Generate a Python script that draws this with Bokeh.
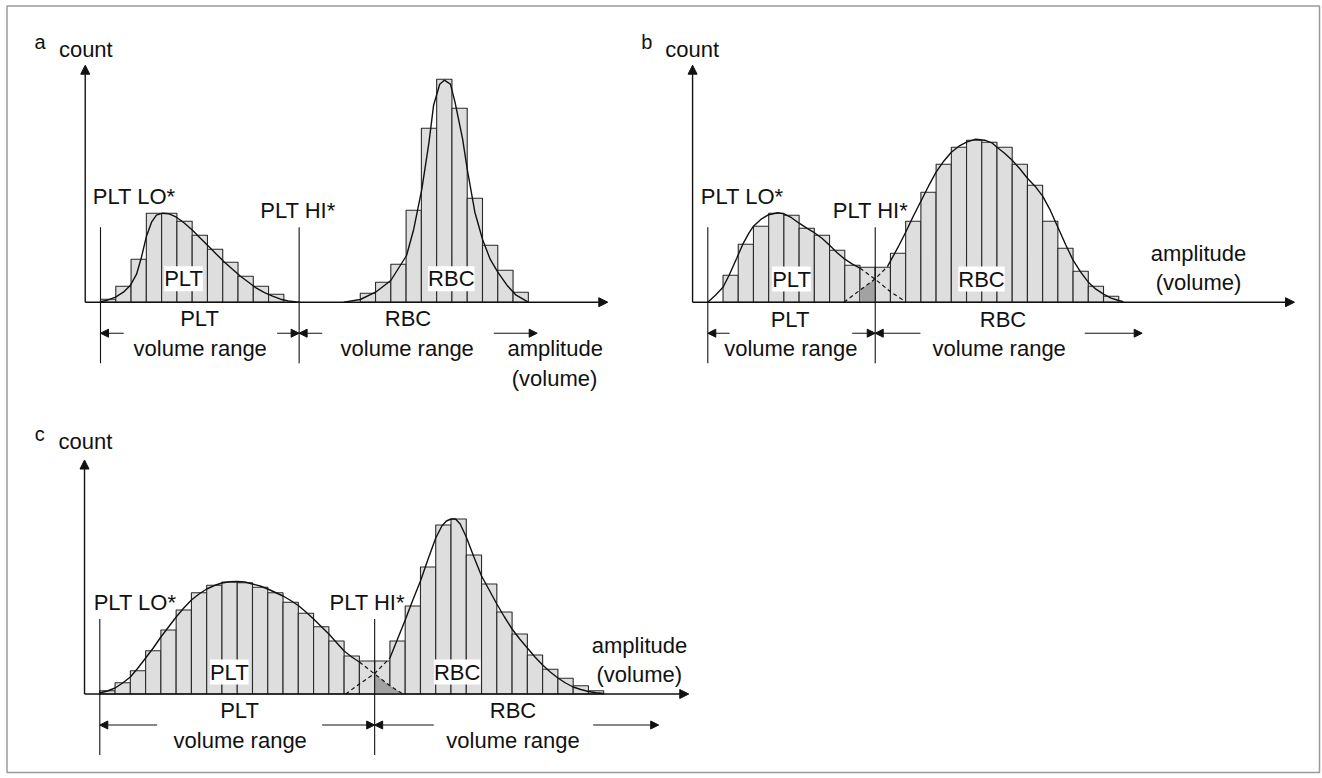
from bokeh.plotting import figure
from bokeh.models import Range1d, Label, Arrow, NormalHead
from bokeh.embed import file_html
from bokeh.resources import INLINE

W, H = 1322, 778
FONT = "Liberation Sans"
TEXT_DY = -8.5   # correction between requested and rendered baseline

# ---------------- data ----------------
# histogram counts per amplitude bin; bin 0 starts at the PLT LO threshold
a_counts = [3, 16, 43, 89, 89, 81, 67, 53, 40, 26, 16, 8,
            0, 0, 0, 0, 0,
            9, 20, 38, 92, 174, 223, 194, 104, 57, 32, 10]
b_counts = [0, 27, 58, 76, 89, 87, 74, 67, 52, 37, 35, 35, 49, 81, 110,
            138, 155, 162, 160, 155, 138, 117, 81, 54, 31, 16, 6]
c_counts = [3.3, 11.3, 23.3, 43.3, 64, 84, 101.3, 108.7, 112, 111.3, 106.7,
            101.3, 91.7, 80.7, 67.3, 53, 38, 33, 33, 53, 88, 127, 169, 175,
            139, 110, 82, 60, 39, 24.7, 15.7, 8.3, 3.3]

# discriminator thresholds (bin edges)
plt_lo = 0
a_plt_hi = 13
b_plt_hi = 11
c_plt_hi = 18

# fitted distribution curves (bin, count)
a_plt_x = [0, 0.46, 0.98, 1.5, 1.96, 2.36, 2.68, 3.01, 3.34, 3.66, 4.06, 4.45, 4.97,
           5.5, 6.02, 6.54, 7.07, 7.59, 8.12, 8.64, 9.16, 9.69, 10.21, 10.73,
           11.26, 11.78, 12.3, 12.83, 13.02]
a_plt_y = [0.5, 2, 5, 10, 17, 28, 45, 66, 80, 87, 89, 88.5, 85, 79, 72, 64, 56, 48,
           40, 33, 26, 20, 14, 9.5, 6, 3, 1.2, 0.3, 0]
a_rbc_x = [15.92, 17.0, 18.0, 19.0, 20.03, 20.5, 21.03, 21.5, 21.8, 22.2, 22.5,
           22.9, 23.2, 23.7, 24.0, 24.5, 25.0, 25.5, 26.0, 26.6, 27.2, 28.0]
a_rbc_y = [0, 2.7, 10, 21.7, 46.7, 73, 113, 160, 197, 218, 222, 218, 200, 163,
           133, 90, 63, 43, 30, 17, 7, 0]

b_plt_x = [0, 0.5, 1, 1.4, 1.9, 2.3, 2.7, 3.0, 3.5, 4.0, 4.6, 5.0, 5.5, 6.0, 6.5,
           7.0, 7.5, 8.0, 8.5, 9.0, 9.5, 10.0]
b_plt_y = [0, 7, 15, 27, 44, 58, 69, 76, 83, 87.5, 89.5, 88.3, 84.5, 79, 74, 69.5,
           64, 57, 49.5, 43, 38, 34]
b_plt_tail_x = [10, 11, 12, 13]
b_plt_tail_y = [34, 23, 10.5, 0.5]
b_rbc_tail_x = [8.95, 10, 11, 11.8]
b_rbc_tail_y = [0, 12, 23.5, 35.5]
b_rbc_x = [11.8, 12, 12.5, 13, 13.5, 14, 14.5, 15, 15.5, 16, 16.5, 17, 17.6, 18.2,
           18.7, 19, 19.5, 20, 20.5, 21, 21.5, 22, 22.5, 23, 23.5, 24, 24.5, 25,
           25.5, 26, 26.5, 27, 27.3]
b_rbc_y = [35.5, 41, 55, 70, 86, 101, 116, 130, 141, 150, 156, 160, 163, 162, 159,
           155, 149, 142, 133.5, 124, 116, 106, 92, 75, 58, 42, 30, 20, 13, 8, 4,
           1.7, 0.5]

c_plt_x = [0, 0.5, 1, 1.5, 2, 2.5, 3, 3.5, 4, 4.5, 5, 5.5, 6, 6.5, 7, 7.5, 8, 8.5,
           9, 9.5, 10, 10.5, 11, 11.5, 12, 12.5, 13, 13.5, 14, 14.5, 15, 15.5, 16,
           16.5, 17]
c_plt_y = [1, 3, 6, 11, 17, 26, 36, 46, 57, 67, 77, 86, 94, 100, 105, 108.5, 111,
           112.2, 112.5, 112, 110, 108, 105, 101.5, 98, 93.5, 88.5, 82, 75, 67.5,
           60, 51.5, 43, 37, 32]
c_plt_tail_x = [17, 18, 19, 19.8]
c_plt_tail_y = [32, 20, 8.3, 0.5]
c_rbc_tail_x = [16.1, 17, 18, 19]
c_rbc_tail_y = [0, 10, 20.5, 36]
c_rbc_x = [19, 19.5, 20, 20.5, 21, 21.5, 22, 22.4, 22.7, 23, 23.3, 23.6, 24, 24.5,
           25, 25.5, 26, 26.5, 27, 27.5, 28, 28.5, 29, 29.5, 30, 30.5, 31, 31.5,
           32, 32.5, 33]
c_rbc_y = [36, 55, 74, 94, 113, 135, 156, 168, 173, 175, 175, 170, 157, 137, 118,
           104, 90, 77, 65, 55, 46, 37, 29, 22, 16, 11, 7, 4.5, 2.5, 1.2, 0.5]

# ---------------- layout (pixel placement of each panel) ----------------
PANEL = {
    "a": dict(x0=100.0, bw=15.28, base=301.7, ytop=237, xend=33.2,
              arrows=[(1.52, 0), (11.56, 13), (14.51, 13), (25.74, 28.58)]),
    "b": dict(x0=707.3, bw=15.22, base=301.7, ytop=237, xend=38.55,
              arrows=[(1.43, 0), (9.49, 11), (13.97, 11), (24.77, 28.54)]),
    "c": dict(x0=99.3, bw=15.27, base=693.5, ytop=234, xend=38.57,
              arrows=[(3.76, 0), (14.56, 18), (21.87, 18), (32.31, 36.6)]),
}

BAR_FILL = "#dedede"
BAR_LINE = "#2a2a2a"
SHADE = "#a2a2a2"
INK = "#111111"

p = figure(width=W, height=H, x_range=Range1d(0, W), y_range=Range1d(H, 0),
           output_backend="svg", toolbar_location=None,
           x_axis_location=None, y_axis_location=None, min_border=0,
           outline_line_color=None, background_fill_color="white",
           border_fill_color="white")
p.xgrid.visible = False
p.ygrid.visible = False

for name, cfg in PANEL.items():
    p.extra_x_ranges[name] = Range1d(-cfg["x0"] / cfg["bw"], (W - cfg["x0"]) / cfg["bw"])
    p.extra_y_ranges[name] = Range1d(cfg["base"] - H, cfg["base"])

# outer frame
p.quad(left=[6.5], right=[1319], top=[5.5], bottom=[772], fill_alpha=0,
       line_color="#9a9a9a", line_width=1.5)


def draw_panel(name, counts, hi, solid, dashed, shade):
    cfg = PANEL[name]
    kw = dict(x_range_name=name, y_range_name=name)
    idx = [i for i, c in enumerate(counts) if c > 0]
    p.quad(left=idx, right=[i + 1 for i in idx], bottom=0,
           top=[counts[i] for i in idx], fill_color=BAR_FILL,
           line_color=BAR_LINE, line_width=1.1, **kw)
    if shade is not None:
        sx, sy = shade
        p.patch(sx, sy, fill_color=SHADE, line_color=None, **kw)
    for xs, ys in solid:
        p.line(xs, ys, line_color=INK, line_width=1.4, **kw)
    for xs, ys in dashed:
        p.line(xs, ys, line_color=INK, line_width=1.2, line_dash="4 3", **kw)
    # threshold lines
    p.segment(x0=[plt_lo, hi], x1=[plt_lo, hi], y0=[-61, -61], y1=[75, 75],
              line_color=INK, line_width=1.1, **kw)
    # axes with arrow heads
    for (xs, ys, xe, ye) in [(-1, 0, -1, cfg["ytop"]), (-1, 0, cfg["xend"], 0)]:
        p.add_layout(Arrow(end=NormalHead(size=9, fill_color=INK, line_color=INK,
                                          line_width=1),
                           x_start=xs, y_start=ys, x_end=xe, y_end=ye,
                           line_color=INK, line_width=1.4, **kw))
    # volume range arrows
    for (xs, xe) in cfg["arrows"]:
        p.add_layout(Arrow(end=NormalHead(size=8, fill_color=INK, line_color=INK,
                                          line_width=1),
                           x_start=xs, y_start=-31, x_end=xe, y_end=-31,
                           line_color=INK, line_width=1.1, **kw))


def under(xs, ys, lo, hi):
    pts = [(x, y) for x, y in zip(xs, ys) if lo <= x <= hi]
    px = [pts[0][0]] + [q[0] for q in pts] + [pts[-1][0]]
    py = [0] + [q[1] for q in pts] + [0]
    return px, py


draw_panel("a", a_counts, a_plt_hi,
           solid=[(a_plt_x, a_plt_y), (a_rbc_x, a_rbc_y)], dashed=[], shade=None)
draw_panel("b", b_counts, b_plt_hi,
           solid=[(b_plt_x, b_plt_y), (b_rbc_x, b_rbc_y)],
           dashed=[(b_plt_tail_x, b_plt_tail_y), (b_rbc_tail_x, b_rbc_tail_y)],
           shade=under(b_rbc_tail_x, b_rbc_tail_y, b_plt_hi - 1, b_plt_hi))
draw_panel("c", c_counts, c_plt_hi,
           solid=[(c_plt_x, c_plt_y), (c_rbc_x, c_rbc_y)],
           dashed=[(c_plt_tail_x, c_plt_tail_y), (c_rbc_tail_x, c_rbc_tail_y)],
           shade=under(c_plt_tail_x, c_plt_tail_y, c_plt_hi, 99))

# ---------------- texts (pixel positions: centre x, baseline y) ----------------
texts = [
    # panel a
    ("a", 39.5, 50, "20px", False), ("count", 85.3, 57.3, "22px", False),
    ("PLT LO*", 133.7, 204, "22px", False), ("PLT HI*", 297.5, 218.3, "22px", False),
    ("PLT", 183, 286.7, "22px", True), ("RBC", 450.8, 286.7, "22px", True),
    ("PLT", 199, 326.7, "22px", False), ("RBC", 407.5, 326.7, "22px", False),
    ("volume range", 199.7, 356, "22px", False), ("volume range", 406.7, 356, "22px", False),
    ("amplitude", 554.7, 356, "22px", False), ("(volume)", 554, 386, "22px", False),
    # panel b
    ("b", 646.2, 50, "20px", False), ("count", 691.7, 57.3, "22px", False),
    ("PLT LO*", 741.7, 204, "22px", False), ("PLT HI*", 870, 218.3, "22px", False),
    ("PLT", 791, 287, "22px", True), ("RBC", 981, 287, "22px", True),
    ("PLT", 789.5, 327, "22px", False), ("RBC", 1002.5, 327, "22px", False),
    ("volume range", 790.3, 356, "22px", False), ("volume range", 998.7, 356, "22px", False),
    ("amplitude", 1198, 261, "22px", False), ("(volume)", 1198, 290.7, "22px", False),
    # panel c
    ("c", 39.2, 441.7, "20px", False), ("count", 85, 449.3, "22px", False),
    ("PLT LO*", 134.5, 610.7, "22px", False), ("PLT HI*", 366.7, 610.7, "22px", False),
    ("PLT", 228.8, 680, "22px", True), ("RBC", 456.7, 680, "22px", True),
    ("PLT", 239, 718.3, "22px", False), ("RBC", 512.5, 718.3, "22px", False),
    ("volume range", 239.7, 748.3, "22px", False), ("volume range", 512.5, 748.3, "22px", False),
    ("amplitude", 639, 653.3, "22px", False), ("(volume)", 638.8, 682.7, "22px", False),
]
for t, x, y, size, bg in texts:
    lab = Label(x=x, y=y + TEXT_DY, text=t, text_font=FONT, text_font_size=size,
                text_align="center", text_baseline="alphabetic", text_color=INK)
    if bg:
        lab.background_fill_color = "white"
        lab.background_fill_alpha = 1.0
    p.add_layout(lab)

open("out.html", "w").write(file_html(p, INLINE))
